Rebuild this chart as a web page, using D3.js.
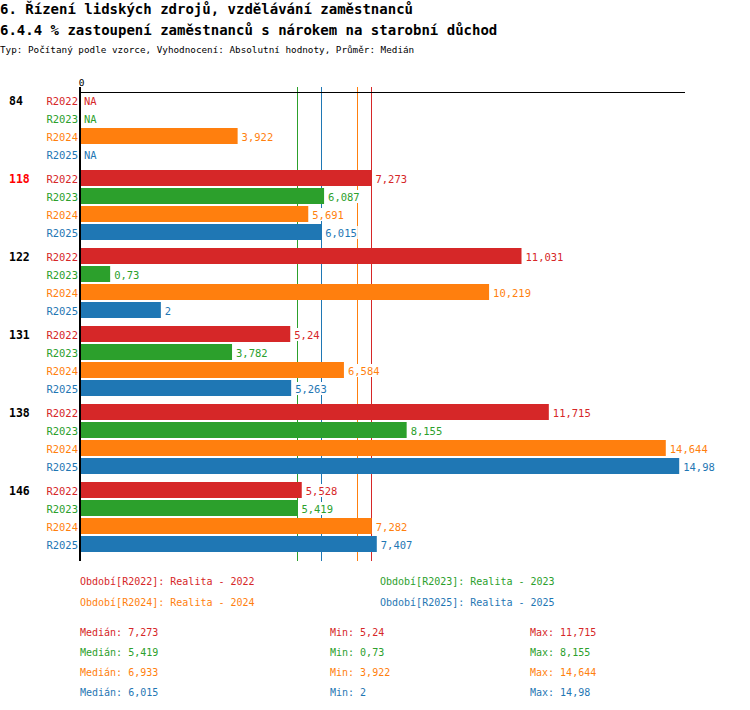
<!DOCTYPE html>
<html><head><meta charset="utf-8">
<script src="https://cdn.jsdelivr.net/npm/d3@7"></script>
<style>body{margin:0;background:#fff}svg{display:block}text{font-family:"DejaVu Sans Mono",monospace}</style>
</head><body><svg id="c" width="750" height="710"></svg>
<script>
const title1 = "6. Řízení lidských zdrojů, vzdělávání zaměstnanců";
const title2 = "6.4.4 % zastoupení zaměstnanců s nárokem na starobní důchod";
const subtitle = "Typ: Počítaný podle vzorce, Vyhodnocení: Absolutní hodnoty, Průměr: Medián";
const groups = ["84", "118", "122", "131", "138", "146"];
const highlighted = "118";
const series = ["R2022", "R2023", "R2024", "R2025"];
const seriesNames = ["Realita - 2022", "Realita - 2023", "Realita - 2024", "Realita - 2025"];
const colors = ["#d62728", "#2ca02c", "#ff7f0e", "#1f77b4"];
const vR2022 = [null, 7.273, 11.031, 5.24, 11.715, 5.528];
const vR2023 = [null, 6.087, 0.73, 3.782, 8.155, 5.419];
const vR2024 = [3.922, 5.691, 10.219, 6.584, 14.644, 7.282];
const vR2025 = [null, 6.015, 2, 5.263, 14.98, 7.407];
const values = [vR2022, vR2023, vR2024, vR2025];
const xTicks = [0];

const svg = d3.select("#c");
const fmt = v => String(v).replace(".", ",");

svg.append("text").attr("x", 0).attr("y", 14).attr("font-size", 14).attr("font-weight", "bold").text(title1);
svg.append("text").attr("x", 0).attr("y", 35).attr("font-size", 14).attr("font-weight", "bold").text(title2);
svg.append("text").attr("x", 0).attr("y", 53).attr("font-size", 9.3).text(subtitle);

const x = d3.scaleLinear().domain([0, 15.1]).range([81, 684]);
const rowH = 18, groupH = 78, plotTop = 92, barH = 16;
const y0 = d3.scaleBand().domain(groups).range([plotTop, plotTop + groupH * groups.length]);
const y1 = d3.scaleBand().domain(series).range([0, rowH * series.length]);

// median lines
const stats = values.map(v => {
  const d = v.filter(a => a != null);
  return {med: d3.median(d), min: d3.min(d), max: d3.max(d)};
});
svg.append("g").selectAll("line").data(stats).join("line")
  .attr("x1", d => Math.floor(x(d.med)) + 0.5).attr("x2", d => Math.floor(x(d.med)) + 0.5)
  .attr("y1", 87).attr("y2", 561)
  .attr("stroke", (d, i) => colors[i]).attr("stroke-width", 1);

// top axis
const axis = svg.append("g").attr("transform", `translate(0,${plotTop})`)
  .call(d3.axisTop(x).tickValues(xTicks).tickSize(0).tickFormat(d => d));
axis.select(".domain").attr("stroke", "#000").attr("d", `M80,0.5H685`);
axis.selectAll("text").attr("font-size", 9.5).attr("dy", "-3").attr("font-family", "DejaVu Sans Mono");
svg.append("line").attr("x1", 80).attr("x2", 80).attr("y1", 87).attr("y2", 561)
  .attr("stroke", "#000").attr("stroke-width", 2);

// groups
const g = svg.append("g").selectAll("g").data(groups).join("g")
  .attr("transform", d => `translate(0,${y0(d)})`);
g.append("text").attr("x", 9).attr("y", barH / 2 + 1).attr("dy", "0.35em")
  .attr("font-size", 11.5).attr("font-weight", "bold")
  .attr("fill", d => d === highlighted ? "#ff0000" : "#000").text(d => d);

g.each(function(grp, gi) {
  const sel = d3.select(this);
  series.forEach((s, si) => {
    const v = values[si][gi];
    const yy = y1(s);
    sel.append("text").attr("x", 78).attr("y", yy + barH / 2 + 1).attr("dy", "0.35em")
      .attr("text-anchor", "end").attr("font-size", 10.5).attr("fill", colors[si]).text(s);
    if (v != null) {
      sel.append("rect").attr("x", x(0)).attr("y", yy).attr("width", x(v) - x(0)).attr("height", barH)
        .attr("fill", colors[si]);
    }
    const bg = sel.append("rect").attr("fill", "#fff");
    const t = sel.append("text").attr("x", v != null ? x(v) + 4 : 84).attr("y", yy + barH / 2 + 1).attr("dy", "0.35em")
      .attr("font-size", 10.5).attr("fill", colors[si]).text(v != null ? fmt(v) : "NA");
    const bb = t.node().getBBox();
    bg.attr("x", bb.x - 1).attr("y", yy + 2).attr("width", bb.width + 2).attr("height", barH - 3);
  });
});

// legend
const legX = [80, 380], legY = [581, 602];
series.forEach((s, i) => {
  svg.append("text").attr("x", legX[i % 2]).attr("y", legY[Math.floor(i / 2)]).attr("dy", "0.35em")
    .attr("font-size", 10).attr("fill", colors[i]).text(`Období[${s}]: ${seriesNames[i]}`);
});

// stats
const stY = [632, 652, 672, 692];
stats.forEach((st, i) => {
  const row = svg.append("g").attr("fill", colors[i]).attr("font-size", 10);
  row.append("text").attr("x", 80).attr("y", stY[i]).attr("dy", "0.35em").text(`Medián: ${fmt(st.med)}`);
  row.append("text").attr("x", 330).attr("y", stY[i]).attr("dy", "0.35em").text(`Min: ${fmt(st.min)}`);
  row.append("text").attr("x", 530).attr("y", stY[i]).attr("dy", "0.35em").text(`Max: ${fmt(st.max)}`);
});
</script></body></html>
